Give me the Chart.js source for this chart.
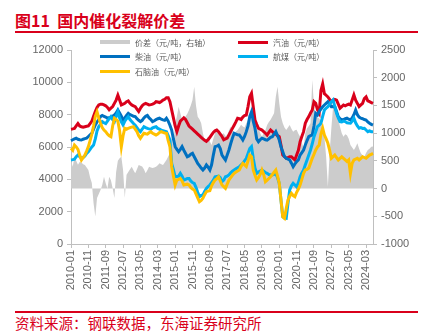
<!DOCTYPE html>
<html>
<head>
<meta charset="utf-8">
<script src="https://cdn.jsdelivr.net/npm/chart.js@4.4.1/dist/chart.umd.min.js"></script>
<style>
  html, body { margin: 0; padding: 0; background: #fff; }
  body { width: 429px; height: 332px; position: relative; overflow: hidden;
         font-family: "Noto Sans CJK SC", "Liberation Sans", sans-serif; }
  #title { position: absolute; left: 15px; top: 10px; line-height: 20px; font-size: 16px;
           font-weight: bold; color: #d9001b; white-space: pre; }
  .rule { position: absolute; left: 15px; width: 403px; background: #d9001b; }
  #source { position: absolute; left: 15px; top: 314px; line-height: 18px; font-size: 14.5px;
            color: #d9001b; white-space: nowrap; }
  #wrap { position: absolute; left: 0; top: 35px; width: 429px; height: 270px; }
  #legend { position: absolute; left: 100px; top: 35px; display: grid;
            grid-template-columns: 138px 140px; grid-auto-rows: 14.5px; }
  .item { display: flex; align-items: center; font-size: 8px; color: #595959; white-space: nowrap; }
  .swatch { width: 30px; margin-right: 5px; }
</style>
</head>
<body>
<div id="title">图11  国内催化裂解价差</div>
<div class="rule" style="top:31px;height:2px"></div>
<div id="wrap"><canvas id="chart" width="429" height="270"></canvas></div>
<div id="legend"></div>
<div class="rule" style="top:311px;height:1.5px"></div>
<div id="source">资料来源：钢联数据，东海证券研究所</div>
<script>
// monthly categories 2010-01 .. 2024-07
const months = [];
for (let y = 2010; y <= 2024; y++) {
  for (let m = 1; m <= 12; m++) {
    if (y === 2024 && m > 7) break;
    months.push(y + '-' + String(m).padStart(2, '0'));
  }
}

// 价差 (元/吨, right axis)
const spread = [
  516, 395, 575, 500, 431, 480, 470, 440, 425, 380, 335, 200,
  100, -265, -505, -170, -100, -25, 65, 215, 95, 0, 215, 150,
  5, -170, 300, 500, 545, 575, 335, -170, 250, 300, 350, 395,
  330, 275, 350, 425, 410, 400, 350, 275, 330, 395, 380, 370,
  380, 395, 420, 455, 440, 425, 470, 516, 580, 637, 936, 750,
  1178, 1300, 1478, 1360, 1238, 1280, 1300, 1350, 1418, 1500, 1598, 1838,
  1500, 1297, 1250, 1178, 1000, 877, 900, 937, 850, 786, 900, 997,
  1088, 1040, 1000, 980, 997, 950, 960, 1050, 1117, 1050, 1000, 1030,
  1057, 1100, 1150, 1120, 1100, 1180, 1238, 1260, 1297, 1250, 1200, 1150,
  1117, 1000, 936, 997, 1050, 1147, 1200, 1240, 1300, 1358, 1658, 1838,
  1538, 1297, 1178, 1100, 1057, 1100, 1147, 1080, 1027, 1050, 1060, 990,
  937, 830, 727, 1000, 1088, 1130, 1178, 1960, 1500, 1297, 1280, 1268,
  1200, 1147, 937, 575, 35, 637, 1088, 1478, 1450, 1418, 1250, 1117,
  1000, 937, 980, 960, 900, 786, 740, 696, 750, 816, 720, 637,
  600, 575, 640, 696, 720, 756, 760
];

// 汽油 (元/吨)
const gasoline = [
  7100, 7120, 7150, 7300, 7450, 7300, 7250, 7220, 7250, 7280, 7300, 7450,
  7600, 7900, 8200, 8450, 8600, 8650, 8650, 8600, 8550, 8450, 8300, 8400,
  8500, 8700, 8900, 9200, 8900, 8600, 8650, 8700, 8800, 8850, 8700, 8600,
  8550, 8500, 8350, 8200, 8400, 8550, 8650, 8700, 8650, 8600, 8620, 8650,
  8700, 8800, 8780, 8750, 8820, 8900, 8950, 9050, 9050, 8800, 8300, 7800,
  7300, 6950, 7300, 7600, 7700, 7800, 7700, 7500, 7300, 7200, 7100, 7000,
  6900, 6800, 6700, 6600, 6500, 6420, 6350, 6450, 6600, 6750, 6900, 7000,
  7050, 6950, 6800, 6650, 6450, 6500, 6550, 6750, 6950, 7150, 7350, 7550,
  7780, 7750, 7700, 7850, 7950, 7980, 8500, 9110, 9320, 8500, 7670, 7400,
  7160, 7100, 7050, 6950, 6850, 6740, 6900, 7050, 6950, 6850, 6800, 6700,
  6640, 6100, 5500, 5400, 5300, 5350, 5400, 5400, 5300, 5200, 5500, 5800,
  6330, 6650, 6950, 7470, 7700, 7880, 8100, 8290, 8800, 8700, 8300, 8100,
  9500, 9900, 9300, 9200, 9100, 8950, 8800, 8900, 8950, 8900, 8650, 8400,
  8500, 8600, 8550, 8600, 8650, 8600, 8900, 9220, 8900, 8700, 8500, 8600,
  8700, 9000, 9100, 8850, 8800, 8750, 8700
];

// 柴油 (元/吨)
const diesel = [
  6390, 6450, 6500, 6540, 6480, 6450, 6430, 6480, 6520, 6550, 6650, 6750,
  6850, 7100, 7360, 7550, 7700, 7880, 7950, 7900, 7850, 7780, 7820, 7850,
  7900, 7980, 8100, 8290, 8100, 7900, 7670, 7800, 7950, 8080, 8000, 7950,
  7900, 7880, 7750, 7650, 7570, 7650, 7800, 7900, 7950, 7800, 7700, 7570,
  7620, 7700, 7750, 7780, 7720, 7680, 7650, 7780, 7600, 7350, 7050, 6500,
  6020, 5850, 5710, 5850, 6020, 5800, 5600, 5400, 5450, 5550, 5610, 5400,
  5200, 4990, 4850, 4700, 4580, 4700, 4890, 4750, 4580, 4900, 5500, 6020,
  6050, 6120, 5900, 5500, 5350, 5200, 5500, 5815, 6200, 6550, 6850, 6800,
  6750, 6740, 6600, 6430, 6650, 6950, 7300, 7900, 8180, 7600, 7160, 6500,
  6330, 6450, 6540, 6500, 6450, 6430, 6500, 6600, 6640, 6800, 6950, 6700,
  6430, 6000, 5700, 5400, 5300, 5250, 5200, 5000, 4780, 4950, 5100, 5200,
  5500, 5650, 5815, 6120, 6400, 6640, 6700, 6740, 7300, 8080, 7980, 8200,
  8350, 8490, 8600, 8700, 8800, 8650, 8490, 8500, 8490, 8200, 7880, 7750,
  7670, 7700, 7750, 7780, 7720, 7670, 7800, 8000, 8290, 8000, 7850, 7780,
  7750, 7700, 7670, 7550, 7470, 7400, 7360
];

// 航煤 (元/吨)
const jetFuel = [
  5200, 5220, 5250, 5400, 5500, 5400, 5300, 5350, 5450, 5600, 5710, 5850,
  6000, 6120, 6500, 7000, 7260, 7400, 7570, 7500, 7450, 7600, 7750, 7880,
  7700, 7570, 7900, 8180, 7800, 7550, 7360, 7600, 7750, 7880, 7700, 7570,
  7450, 7350, 7200, 7050, 6950, 7100, 7260, 7200, 7150, 7120, 7100, 7180,
  7220, 7260, 7150, 7100, 7050, 7000, 6980, 6950, 6700, 6430, 4990, 4600,
  4160, 4180, 4200, 4370, 4200, 3960, 4000, 4050, 4050, 3900, 3800, 3750,
  3500, 3200, 2930, 3000, 3030, 3250, 3440, 3550, 3650, 3800, 3950, 4160,
  4180, 4200, 4100, 3850, 3950, 4160, 4200, 4270, 4400, 4500, 4580, 4650,
  4720, 4780, 4900, 4990, 5150, 5300, 5600, 5900, 6020, 5300, 4700, 4370,
  4450, 4520, 4580, 4500, 4420, 4370, 4300, 4280, 4270, 4300, 4370, 4100,
  3750, 2700, 1690, 1600, 1590, 2500, 3340, 3600, 3750, 3650, 3540, 3800,
  4160, 4400, 4580, 4900, 5200, 5500, 5815, 6200, 6640, 6950, 7260, 7350,
  7470, 7900, 8290, 8400, 8490, 8650, 8800, 8910, 8500, 8080, 7800, 7570,
  7550, 7600, 7570, 7500, 7480, 7470, 7600, 7780, 7500, 7300, 7160, 7200,
  7150, 7160, 7050, 6950, 7000, 6950, 6950
];

// 石脑油 (元/吨)
const naphtha = [
  5920, 5800, 6120, 6000, 5850, 5500, 5200, 5350, 5500, 5750, 6020, 6400,
  6800, 7300, 7900, 8180, 7800, 7470, 7200, 7050, 6950, 6800, 6700, 6640,
  7300, 7780, 7700, 7600, 7000, 6020, 6700, 7160, 7100, 7160, 7200, 7230,
  7260, 7100, 6950, 6700, 6540, 6700, 6850, 6820, 6800, 6880, 6950, 6850,
  6800, 6740, 6800, 6900, 6950, 6900, 6870, 6850, 6400, 6020, 4780, 4200,
  3650, 3960, 4000, 4050, 3900, 3650, 3680, 3700, 3650, 3500, 3400, 3340,
  3100, 2850, 2620, 2700, 2830, 3050, 3240, 3280, 3300, 3600, 3800, 3960,
  4050, 4160, 3900, 3650, 3550, 3440, 3700, 3960, 4100, 4250, 4370, 4450,
  4520, 4580, 4800, 4990, 4900, 4800, 5150, 5500, 5400, 4580, 4250, 3960,
  4100, 4300, 4580, 4300, 3850, 3950, 4050, 4160, 4300, 4450, 4580, 4200,
  3750, 2700, 1690, 1590, 2200, 2720, 2950, 3130, 3000, 2930, 3200, 3400,
  3650, 4000, 4370, 4580, 4620, 4700, 5000, 5300, 5550, 5815, 6000, 6120,
  6800, 7160, 6740, 6500, 6230, 5800, 5300, 5400, 5500, 5350, 5200, 5300,
  5400, 5300, 5200, 5100, 5200, 4370, 5000, 5200, 5250, 5300, 5200, 5300,
  5400, 5350, 5300, 5400, 5500, 5550, 5600
];

const leftTicks = { min: 0, max: 12000, step: 2000 };
const rightTicks = { min: -1000, max: 2500, step: 500 };

const axisColor = '#bfbfbf';
const tickFont = { family: '"Liberation Sans", Arial, sans-serif', size: 11 };
const tickColor = '#666666';

function lineSet(label, data, color, order) {
  return {
    label, data, yAxisID: 'y', order,
    borderColor: color, backgroundColor: color,
    borderWidth: 3, pointRadius: 0, tension: 0, fill: false
  };
}

const datasets = [
  {
    label: '价差（元/吨，右轴）', data: spread, yAxisID: 'y1', order: 10,
    borderWidth: 0, borderColor: '#cccccc', backgroundColor: '#cccccc',
    pointRadius: 0, tension: 0, fill: 'origin'
  },
  lineSet('汽油（元/吨）', gasoline, '#d9001b', 4),
  lineSet('柴油（元/吨）', diesel, '#0070c0', 3),
  lineSet('航煤（元/吨）', jetFuel, '#00b0f0', 2),
  lineSet('石脑油（元/吨）', naphtha, '#ffc000', 1)
];

// plain integers on both value axes, no thousands separator
const plain = v => String(v);

const chart = new Chart(document.getElementById('chart'), {
  type: 'line',
  data: { labels: months, datasets },
  options: {
    responsive: false,
    animation: false,
    devicePixelRatio: 1,
    layout: { padding: { top: 15, left: 0, right: 0, bottom: 0 } },
    plugins: { legend: { display: false }, tooltip: { enabled: false } },
    scales: {
      x: {
        offset: false,
        grid: { display: true, drawOnChartArea: false, tickLength: 4, color: axisColor },
        border: { display: true, color: axisColor },
        ticks: { autoSkip: false, minRotation: 90, maxRotation: 90, padding: 2, font: tickFont, color: tickColor },
        afterBuildTicks: s => { s.ticks = s.ticks.filter((t, i) => i % 10 === 0); },
        afterFit: s => { s.height = 61; }
      },
      y: {
        position: 'left',
        min: leftTicks.min, max: leftTicks.max,
        grid: { display: true, drawOnChartArea: false, tickLength: 4, color: axisColor },
        border: { display: true, color: axisColor },
        ticks: { stepSize: leftTicks.step, padding: 4, font: tickFont, color: tickColor, callback: plain },
        afterFit: s => { s.width = 71; }
      },
      y1: {
        position: 'right',
        min: rightTicks.min, max: rightTicks.max,
        grid: { display: true, drawOnChartArea: false, tickLength: 4, color: axisColor },
        border: { display: true, color: axisColor },
        ticks: { stepSize: rightTicks.step, padding: 4, font: tickFont, color: tickColor, callback: plain },
        afterFit: s => { s.width = 56; }
      }
    }
  }
});

// legend laid over the top of the plot, two columns
const legend = document.getElementById('legend');
chart.data.datasets.forEach((ds, i) => {
  const item = document.createElement('div');
  item.className = 'item';
  const sw = document.createElement('span');
  sw.className = 'swatch';
  sw.style.height = i === 0 ? '4px' : '3px';
  sw.style.background = ds.backgroundColor;
  item.appendChild(sw);
  item.appendChild(document.createTextNode(ds.label));
  legend.appendChild(item);
});
</script>
</body>
</html>
